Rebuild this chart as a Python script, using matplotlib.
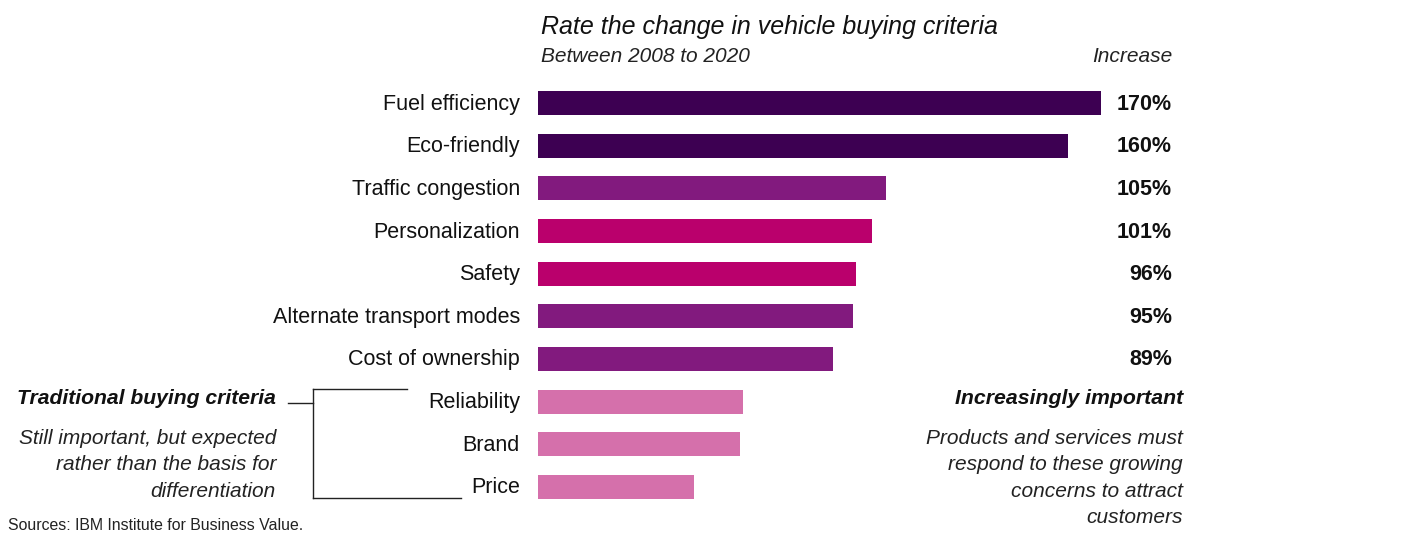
import matplotlib.pyplot as plt
from matplotlib.lines import Line2D

criteria = ["Fuel efficiency", "Eco-friendly", "Traffic congestion", "Personalization",
            "Safety", "Alternate transport modes", "Cost of ownership",
            "Reliability", "Brand", "Price"]
increase = [170, 160, 105, 101, 96, 95, 89, 62, 61, 47]
shown_labels = ["170%", "160%", "105%", "101%", "96%", "95%", "89%"]
bar_colors = ["#3d0052", "#3d0052", "#821a7e", "#ba006c", "#ba006c",
              "#821a7e", "#821a7e", "#d570ab", "#d570ab", "#d570ab"]

W, H = 1419, 534
plt.rcParams['font.family'] = ['Liberation Sans', 'DejaVu Sans']

fig = plt.figure(figsize=(W / 100, H / 100), dpi=100)

def px(x, y):
    return x / W, 1 - y / H

# axes: value 0 at x=538, 170 at x=1101; rows centred 103..487
top, bottom = 103 - 21.33, 487 + 21.33
ax = fig.add_axes([538 / W, 1 - bottom / H, (1101 - 538) / W, (bottom - top) / H])
ypos = list(range(len(criteria)))
ax.barh(ypos, increase, height=0.56, color=bar_colors)
ax.set_xlim(0, 170)
ax.set_ylim(len(criteria) - 0.5, -0.5)
ax.axis('off')

# category labels
for i, name in enumerate(criteria):
    ax.annotate(name, xy=(0, i), xycoords='data', xytext=(-18, -1), textcoords='offset pixels',
                ha='right', va='center', fontsize=15.5, color='#111111')

# value labels at right
for i, lab in enumerate(shown_labels):
    ax.annotate(lab, xy=(1, i), xycoords=('axes fraction', 'data'),
                xytext=(71, -1), textcoords='offset pixels',
                ha='right', va='center', fontsize=15.5, fontweight='bold', color='#111111')

fig.text(*px(541, 27), "Rate the change in vehicle buying criteria", ha='left', va='center',
         fontsize=18, style='italic', color='#111111')
fig.text(*px(541, 57), "Between 2008 to 2020", ha='left', va='center',
         fontsize=15, style='italic', color='#222222')
fig.text(*px(1172, 57), "Increase", ha='right', va='center',
         fontsize=15, style='italic', color='#222222')

# left annotation
fig.text(*px(276, 399), "Traditional buying criteria", ha='right', va='center',
         fontsize=15.2, style='italic', fontweight='bold', color='#111111')
fig.text(*px(276, 465), "Still important, but expected\nrather than the basis for\ndifferentiation",
         ha='right', va='center', fontsize=15, style='italic', color='#222222', linespacing=1.48)

# right annotation
fig.text(*px(1183, 399), "Increasingly important", ha='right', va='center',
         fontsize=15.3, style='italic', fontweight='bold', color='#111111')
fig.text(*px(1183, 478), "Products and services must\nrespond to these growing\nconcerns to attract\ncustomers",
         ha='right', va='center', fontsize=15, style='italic', color='#222222', linespacing=1.48)

fig.text(*px(8, 525), "Sources: IBM Institute for Business Value.", ha='left', va='center',
         fontsize=11.4, color='#222222')

# bracket linking the traditional criteria
segs = [((288, 313), (402.5, 402.5)), ((313, 313), (389, 498)),
        ((313, 407), (389, 389)), ((313, 461), (498, 498))]
for (xa, xb), (ya, yb) in segs:
    p1 = px(xa, ya)
    p2 = px(xb, yb)
    fig.add_artist(Line2D([p1[0], p2[0]], [p1[1], p2[1]], color='#222222', lw=1.0))

fig.savefig("out.png", dpi=100)
